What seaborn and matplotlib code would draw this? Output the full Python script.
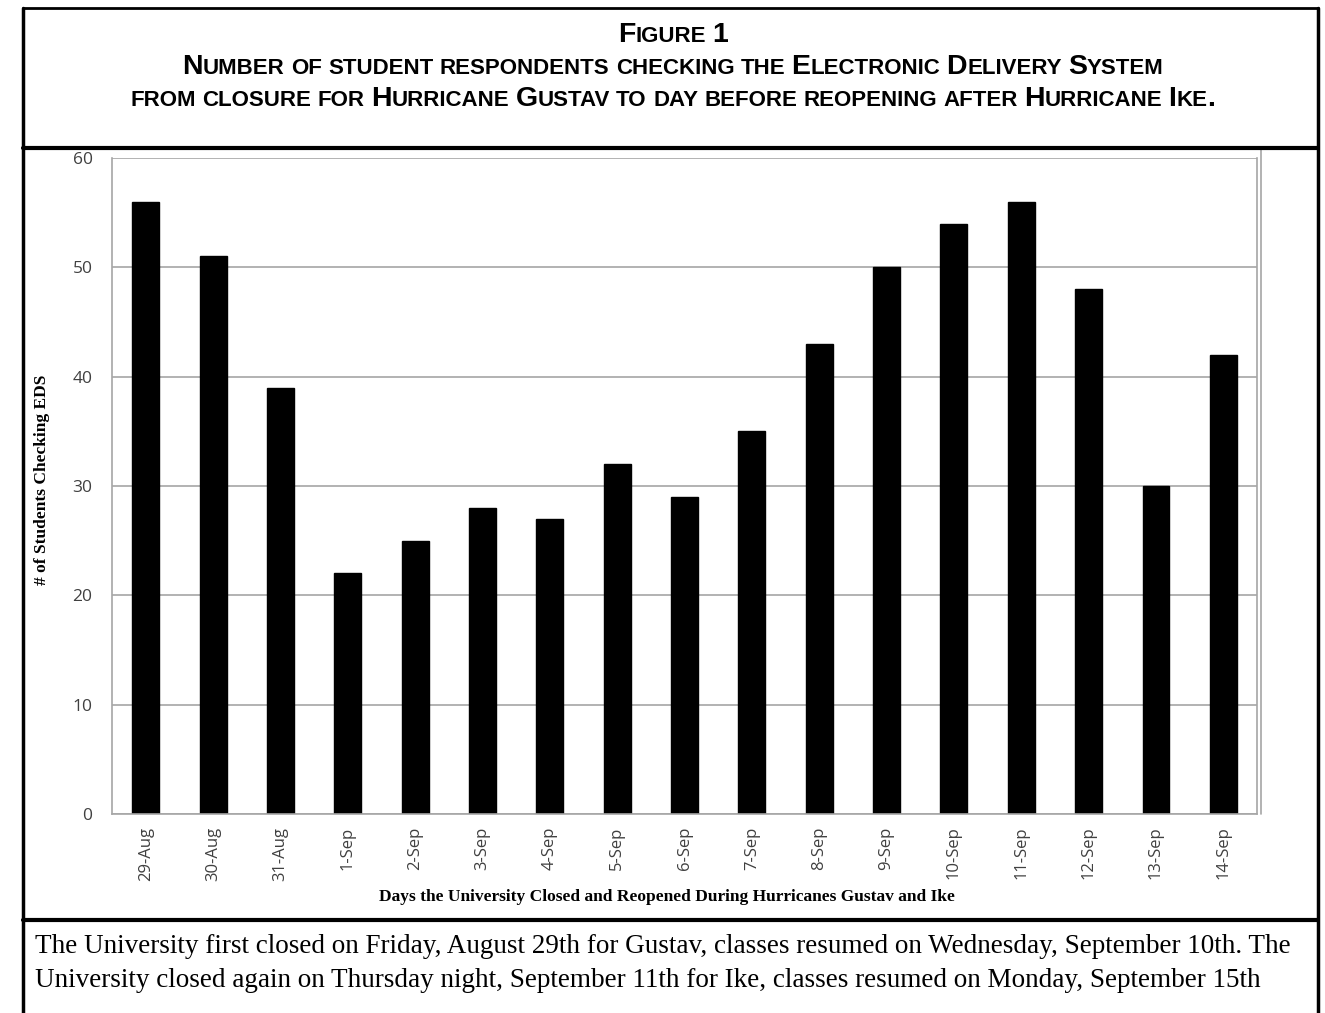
import matplotlib
matplotlib.use("Agg")
import matplotlib.pyplot as plt
import seaborn as sns
import pandas as pd
from matplotlib.lines import Line2D
from matplotlib.ticker import FixedLocator

days = ['29-Aug', '30-Aug', '31-Aug', '1-Sep', '2-Sep', '3-Sep', '4-Sep', '5-Sep',
        '6-Sep', '7-Sep', '8-Sep', '9-Sep', '10-Sep', '11-Sep', '12-Sep', '13-Sep', '14-Sep']
students = [56, 51, 39, 22, 25, 28, 27, 32, 29, 35, 43, 50, 54, 56, 48, 30, 42]
y_ticks = [0, 10, 20, 30, 40, 50, 60]

title_lines = [
    "Figure 1",
    "Number of student respondents checking the Electronic Delivery System",
    "from closure for Hurricane Gustav to day before reopening after Hurricane Ike.",
]
caption_lines = [
    "The University first closed on Friday, August 29th for Gustav, classes resumed on Wednesday, September 10th. The",
    "University closed again on Thursday night, September 11th for Ike, classes resumed on Monday, September 15th",
]

df = pd.DataFrame({'Day': days, 'Students': students})

sns.set_style("white")
plt.rcParams['text.color'] = 'black'
plt.rcParams['axes.labelcolor'] = 'black'
title_font = ['Liberation Sans', 'DejaVu Sans']
tick_font = ['Open Sans', 'DejaVu Sans']
serif_font = ['Liberation Serif', 'DejaVu Serif']

fig = plt.figure(figsize=(13.25, 10.13), dpi=100)
ax = fig.add_axes([112 / 1325, 1 - 814 / 1013, (1257 - 112) / 1325, (814 - 158) / 1013])

sns.barplot(data=df, x='Day', y='Students', color='black', width=0.4,
            saturation=1, ax=ax, edgecolor='black')

ax.set_ylim(0, 60)
ax.set_xlim(-0.5, len(days) - 0.5)
ax.set_yticks(y_ticks)
ax.yaxis.grid(True, color='#a6a6a6', linewidth=1.2)
ax.set_axisbelow(True)
for side in ['left', 'bottom', 'right']:
    ax.spines[side].set_color('#a6a6a6')
    ax.spines[side].set_linewidth(1.2)
ax.spines['top'].set_visible(False)
ax.tick_params(axis='y', length=0, pad=14, labelsize=12.5, labelcolor='#404040')
ax.tick_params(axis='x', which='major', length=0, pad=9, labelsize=12,
               labelcolor='#404040', rotation=90)
ax.xaxis.set_minor_locator(FixedLocator([i - 0.5 for i in range(len(days) + 1)]))
ax.tick_params(axis='x', which='minor', length=7, color='#a6a6a6', width=1.2)
for lab in ax.get_xticklabels() + ax.get_yticklabels():
    lab.set_family(tick_font)

ax.set_xlabel("Days the University Closed and Reopened During Hurricanes Gustav and Ike",
              family=serif_font, fontweight='bold', fontsize=12.5, labelpad=6)
ax.xaxis.set_label_coords((667 - 112) / (1257 - 112), -0.115)
ax.set_ylabel("# of Students Checking EDS", family=serif_font, fontweight='bold',
              fontsize=12.5)
ax.yaxis.set_label_coords(40 / 1325 - 112 / 1325, (1013 - 480 - (1013 - 814)) / (814 - 158))

# outer chart border line on the right
fig.add_artist(Line2D([1261 / 1325] * 2, [1 - 814 / 1013, 1 - 150 / 1013],
                      color='#a6a6a6', linewidth=1.2))

# boxes
W, H = 1325, 1013
def hline(y, x0=23, x1=1318, lw=3):
    fig.add_artist(Line2D([x0 / W, x1 / W], [1 - y / H, 1 - y / H], color='black', linewidth=lw))
def vline(x, y0, y1, lw=2.5):
    fig.add_artist(Line2D([x / W, x / W], [1 - y0 / H, 1 - y1 / H], color='black', linewidth=lw))
hline(8, lw=2)
hline(148)
hline(920)
vline(23, 8, 1013)
vline(1318, 8, 1013)

# small caps title
renderer = fig.canvas.get_renderer()
def small_caps_line(y, s, big, small):
    words = s.split(' ')
    pieces = []
    for w in words:
        runs = []
        for ch in w:
            is_big = not ch.islower()
            if runs and runs[-1][1] == is_big:
                runs[-1][0] += ch
            else:
                runs.append([ch, is_big])
        pieces.append(runs)
    probe = fig.text(0, 0, "x x", fontsize=big, family=title_font, fontweight='bold')
    probe2 = fig.text(0, 0, "xx", fontsize=big, family=title_font, fontweight='bold')
    gap = probe.get_window_extent(renderer).width - probe2.get_window_extent(renderer).width
    probe.remove(); probe2.remove()
    items = []
    total = 0
    for wi, runs in enumerate(pieces):
        if wi > 0:
            total += gap * 0.8
        for txt, is_big in runs:
            t = fig.text(0, 1 - y / H, txt.upper(), fontsize=big if is_big else small,
                         family=title_font, fontweight='bold', va='baseline', ha='left',
                         color='black')
            wpx = t.get_window_extent(renderer).width
            items.append((t, total))
            total += wpx
    x0 = 673 - total / 2
    for t, off in items:
        t.set_x((x0 + off) / W)

small_caps_line(42, title_lines[0], 20.5, 16)
small_caps_line(74, title_lines[1], 20.5, 16)
small_caps_line(106, title_lines[2], 20.5, 16)

fig.text(35 / W, 1 - 953 / H, caption_lines[0], family=serif_font, fontsize=19.5,
         va='baseline', color='black')
fig.text(35 / W, 1 - 987 / H, caption_lines[1], family=serif_font, fontsize=19.5,
         va='baseline', color='black')

fig.savefig("out.png", dpi=100)
